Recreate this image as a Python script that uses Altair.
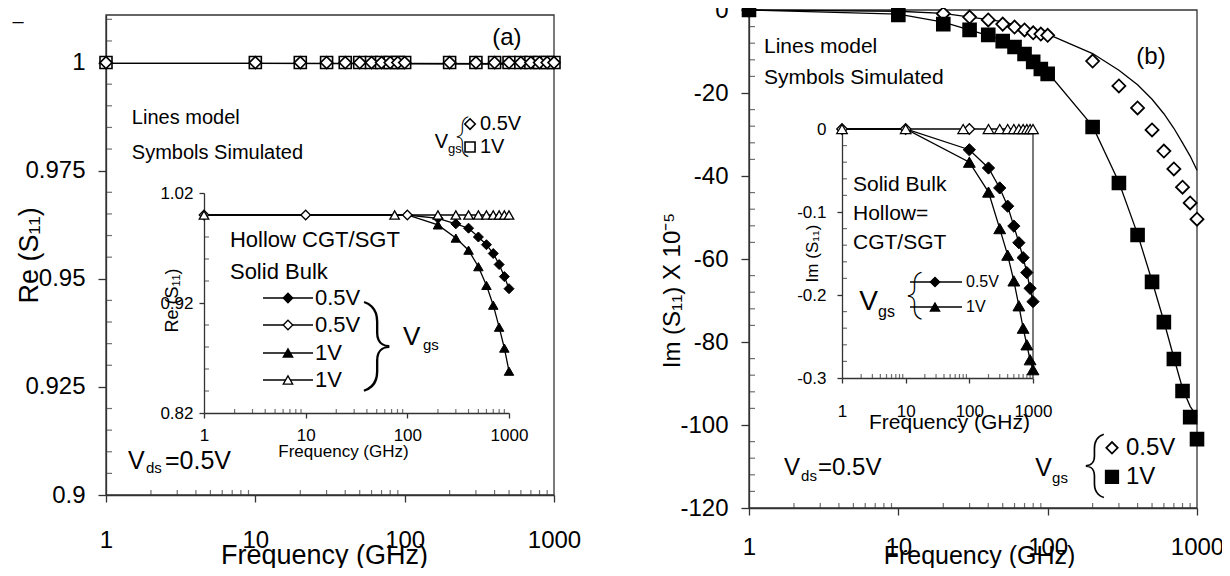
import altair as alt
import pandas as pd

FONT = "Liberation Sans"
BRACE_FONT = "Roboto"
AX = "#333333"

# ---------------- data ----------------
freq_a = [1, 10, 20, 30, 40, 50, 60, 70, 80, 90, 100, 200, 300, 400, 500, 600, 700, 800, 900, 1000]
re_sim_05 = [1.0, 1.0, 1.0, 1.0, 1.0, 1.0, 1.0, 1.0, 1.0, 1.0, 1.0, 1.0, 1.0, 1.0, 1.0, 1.0, 1.0, 1.0, 1.0, 1.0]
re_sim_1 = [1.0, 1.0, 1.0, 1.0, 1.0, 1.0, 1.0, 1.0, 1.0, 1.0, 1.0, 1.0, 1.0, 1.0, 1.0, 1.0, 1.0, 1.0, 1.0, 1.0]
model_f_a = [1, 10, 100, 1000]
re_model_05 = [0.9998, 0.9998, 0.9998, 0.9997]
re_model_1 = [0.9998, 0.9998, 0.9997, 0.9996]

ins_a_f = [1, 10, 100, 200, 300, 400, 500, 600, 700, 800, 900, 1000]
ins_a_bulk_05 = [1.0, 1.0, 1.0, 0.997, 0.992, 0.988, 0.980, 0.973, 0.965, 0.955, 0.944, 0.933]
ins_a_bulk_1 = [1.0, 1.0, 1.0, 0.991, 0.979, 0.968, 0.953, 0.936, 0.918, 0.898, 0.879, 0.858]
ins_a_cgt05_f = [1, 10, 100]
ins_a_cgt05 = [1.0, 1.0, 1.0]
ins_a_cgt1_f = [1, 75, 200, 300, 400, 500, 600, 700, 800, 900, 1000]
ins_a_cgt1 = [1.0, 1.0, 1.0, 1.0, 1.0, 1.0, 1.0, 1.0, 1.0, 1.0, 1.0]

freq_b = [1, 10, 20, 30, 40, 50, 60, 70, 80, 90, 100, 200, 300, 400, 500, 600, 700, 800, 900, 1000]
im_sim_05 = [0.0, -0.2, -0.9, -1.7, -2.4, -3.4, -4.1, -4.8, -5.5, -5.8, -6.1, -12.3, -18.3, -23.6, -28.9, -34.0, -38.3, -42.7, -46.5, -50.4]
im_sim_1 = [0.0, -1.2, -3.4, -4.8, -6.0, -7.5, -8.9, -10.6, -12.5, -14.2, -15.4, -28.2, -41.7, -54.2, -65.5, -75.2, -84.1, -91.8, -98.1, -103.4]
model_f_b = [1, 10, 20, 50, 100, 200, 300, 400, 500, 600, 700, 800, 900, 1000]
im_model_05 = [0.0, -0.3, -0.8, -2.8, -5.8, -10.5, -14.5, -18.0, -21.5, -25.0, -28.5, -32.0, -35.2, -38.6]
im_model_1 = [0.0, -1.0, -2.9, -7.2, -15.0, -28.0, -41.5, -54.0, -65.3, -75.0, -83.8, -91.2, -95.5, -98.0]

ins_b_f = [1, 10, 100, 200, 300, 400, 500, 600, 700, 800, 900, 1000]
ins_b_bulk_05 = [0.0, 0.0, -0.025, -0.047, -0.071, -0.093, -0.117, -0.137, -0.155, -0.173, -0.192, -0.208]
ins_b_bulk_1 = [0.0, 0.0, -0.040, -0.076, -0.120, -0.152, -0.183, -0.213, -0.240, -0.260, -0.278, -0.290]
ins_b_cgt05_f = [1, 10, 100]
ins_b_cgt05 = [0.0, 0.0, 0.0]
ins_b_cgt1_f = [1, 10, 80, 200, 300, 400, 500, 600, 700, 800, 900, 1000]
ins_b_cgt1 = [0.0, 0.0, 0.0, 0.0, 0.0, 0.0, 0.0, 0.0, 0.0, 0.0, 0.0, 0.0]

x_ticks = [1, 10, 100, 1000]
a_yticks = [0.9, 0.925, 0.95, 0.975, 1.0]
ai_yticks = [0.82, 0.92, 1.02]
b_yticks = [-120, -100, -80, -60, -40, -20, 0]
bi_yticks = [-0.3, -0.2, -0.1, 0.0]


def xs(rng):
    return alt.Scale(type="log", domain=[1, 1000], range=rng, nice=False)


def ys(dom, rng):
    return alt.Scale(type="linear", domain=dom, range=rng, nice=False, zero=False)


XA, YA = xs([98, 546]), ys([0.9, 1.011], [487, 7])
XAI, YAI = xs([196, 501]), ys([0.82, 1.02], [405, 185])
XB, YB = xs([741, 1189]), ys([-120, 0], [500, 2])
XBI, YBI = xs([834, 1025]), ys([-0.3, 0], [370, 121])


def axis(**kw):
    base = dict(domainColor=AX, domainWidth=1.3, tickColor=AX, tickWidth=1.3,
                labelColor="black", titleColor="black", labelFont=FONT, titleFont=FONT,
                titleFontWeight="normal", grid=False, labelFlush=False, labelOverlap=False)
    base.update(kw)
    return alt.Axis(**base)


def enc(xsc, ysc):
    return dict(x=alt.X("f:Q", scale=xsc, axis=None), y=alt.Y("v:Q", scale=ysc, axis=None))


def line(f, v, xsc, ysc, sw=1.3):
    return alt.Chart(pd.DataFrame({"f": f, "v": v})).mark_line(color="black", strokeWidth=sw).encode(**enc(xsc, ysc))


def pts(f, v, xsc, ysc, shape, filled, size, sw=1.6, flt=None):
    c = alt.Chart(pd.DataFrame({"f": f, "v": v}))
    if flt:
        c = c.transform_filter(flt)
    return c.mark_point(
        shape=shape, filled=True, fill="black" if filled else "white", stroke="black",
        strokeWidth=sw, size=size, opacity=1).encode(**enc(xsc, ysc))


def texts(rows, xsc, ysc, align="left", font=FONT, weight="normal"):
    df = pd.DataFrame(rows, columns=["f", "v", "text", "fs"])
    return alt.Chart(df).mark_text(align=align, baseline="middle", font=font, fontWeight=weight,
                                   color="black").encode(
        x=alt.X("f:Q", scale=xsc, axis=None), y=alt.Y("v:Q", scale=ysc, axis=None),
        text="text:N", size=alt.Size("fs:Q", scale=None))


def minor_y(vals, xpos, xsc, ysc, size):
    df = pd.DataFrame({"f": [xpos] * len(vals), "v": vals})
    return alt.Chart(df).mark_tick(orient="horizontal", size=size, thickness=1.2, xOffset=size / 2,
                                   color=AX).encode(**enc(xsc, ysc))


def minor_x(ypos, xsc, ysc, size):
    vals = [d * m for d in (1, 10, 100) for m in range(2, 10)]
    df = pd.DataFrame({"f": vals, "v": [ypos] * len(vals)})
    return alt.Chart(df).mark_tick(orient="vertical", size=size, thickness=1.2, yOffset=-size / 2,
                                   color=AX).encode(**enc(xsc, ysc))


def legend_line(f1, f2, v, xsc, ysc):
    df = pd.DataFrame({"f": [f1], "f2": [f2], "v": [v]})
    return alt.Chart(df).mark_rule(color="black", strokeWidth=1.3).encode(
        x=alt.X("f:Q", scale=xsc, axis=None), x2="f2:Q", y=alt.Y("v:Q", scale=ysc, axis=None))


def axes_layer(xsc, ysc, xaxis, yaxis, fmin, vmin):
    df = pd.DataFrame({"f": [fmin], "v": [vmin]})
    return alt.Chart(df).mark_point(opacity=0).encode(
        x=alt.X("f:Q", scale=xsc, axis=xaxis), y=alt.Y("v:Q", scale=ysc, axis=yaxis))


def frame(xsc, ysc, v0, v1):
    df = pd.DataFrame({"f": [1], "f2": [1000], "v": [v0], "v2": [v1]})
    return alt.Chart(df).mark_rect(fillOpacity=0, stroke=AX, strokeWidth=1.3).encode(
        x=alt.X("f:Q", scale=xsc, axis=None), x2="f2:Q",
        y=alt.Y("v:Q", scale=ysc, axis=None), y2="v2:Q")


xlab = "datum.value + ''"

layers = []

# ---------------- panel (a) ----------------
layers.append(axes_layer(
    XA, YA,
    axis(orient="bottom", offset=-73, values=x_ticks, labelExpr=xlab, tickSize=7, labelPadding=26,
         labelFontSize=24, title="Frequency (GHz)", titleFontSize=27, titleX=316, titleY=68,
         titleAlign="center", titleBaseline="alphabetic", titleAnchor="start"),
    axis(orient="left", offset=-98, values=a_yticks, format=".3~f", tickSize=8, labelPadding=13,
         labelFontSize=24, title="Re (S₁₁)", titleFontSize=27, titleAngle=270, titleX=-77,
         titleY=247, titleAlign="center", titleBaseline="middle", titleAnchor="start"),
    1, 0.9))
a_minor_y = [round(0.9 + 0.005 * i, 3) for i in range(23) if i % 5 != 0]
layers += [
    frame(XA, YA, 0.9, 1.011),
    minor_y(a_minor_y, 1, XA, YA, 6),
    minor_x(0.9, XA, YA, 5),
    line(model_f_a, re_model_05, XA, YA),
    line(model_f_a, re_model_1, XA, YA),
    pts(freq_a, re_sim_1, XA, YA, "square", False, 144),
    pts(freq_a, re_sim_05, XA, YA, "diamond", False, 144),
    pts([274], [0.98579], XA, YA, "diamond", False, 110),
    pts([274], [0.98047], XA, YA, "square", False, 100),
    texts([(1.49, 0.98718, "Lines model", 20), (1.49, 0.97909, "Symbols Simulated", 20),
           (319.5, 0.98579, "0.5V", 20), (319.5, 0.98047, "1V", 20), (195, 0.98001, "gs", 13),
           (1.404, 0.90786, "V", 25), (1.853, 0.9062, "ds", 15), (2.483, 0.90786, "=0.5V", 25)],
          XA, YA),
    texts([(195, 0.98163, "V", 20)], XA, YA, align="right"),
    texts([(484, 1.0057, "(a)", 24), (0.2575, 1.0094, "–", 20)], XA, YA, align="center"),
    texts([(242, 0.98302, "{", 40)], XA, YA, align="center", font=BRACE_FONT, weight=100),
]

# ---------------- inset (a) ----------------
layers.append(axes_layer(
    XAI, YAI,
    axis(orient="bottom", offset=-155, values=x_ticks, labelExpr=xlab, tickSize=5, labelPadding=9,
         labelFontSize=17, title="Frequency (GHz)", titleFontSize=17, titleX=335, titleY=30,
         titleAlign="center", titleBaseline="top", titleAnchor="start"),
    axis(orient="left", offset=-196, values=ai_yticks, format=".2f", tickSize=5, labelPadding=6,
         labelFontSize=17, title="Re (S₁₁)", titleFontSize=18, titleAngle=270, titleX=-32,
         titleY=292, titleAlign="center", titleBaseline="middle", titleAnchor="start"),
    1, 0.82))
ai_minor_y = [0.84, 0.86, 0.88, 0.90, 0.94, 0.96, 0.98, 1.0]
layers += [
    minor_y(ai_minor_y, 1, XAI, YAI, 5),
    minor_x(0.82, XAI, YAI, 4),
    line(ins_a_cgt1_f, ins_a_cgt1, XAI, YAI),
    line(ins_a_f, ins_a_bulk_05, XAI, YAI),
    line(ins_a_f, ins_a_bulk_1, XAI, YAI),
    pts(ins_a_f, ins_a_bulk_05, XAI, YAI, "diamond", True, 100, 1.0, "datum.f >= 200"),
    pts(ins_a_f, ins_a_bulk_1, XAI, YAI, "triangle-up", True, 90, 1.0, "datum.f >= 200"),
    pts(ins_a_cgt05_f, ins_a_cgt05, XAI, YAI, "diamond", False, 90, 1.3),
    pts(ins_a_cgt1_f, ins_a_cgt1, XAI, YAI, "triangle-up", False, 90, 1.3),
    legend_line(3.804, 11.81, 0.92455, XAI, YAI),
    legend_line(3.804, 11.81, 0.90, XAI, YAI),
    legend_line(3.804, 11.81, 0.87455, XAI, YAI),
    legend_line(3.804, 11.81, 0.85, XAI, YAI),
    pts([6.70], [0.92455], XAI, YAI, "diamond", True, 90, 1.3),
    pts([6.70], [0.90], XAI, YAI, "diamond", False, 90, 1.3),
    pts([6.70], [0.87455], XAI, YAI, "triangle-up", True, 90, 1.3),
    pts([6.70], [0.85], XAI, YAI, "triangle-up", False, 90, 1.3),
    texts([(1.80, 0.97727, "Hollow  CGT/SGT", 22), (1.80, 0.94818, "Solid  Bulk", 22),
           (12.36, 0.92455, "0.5V", 22), (12.36, 0.90, "0.5V", 22), (12.36, 0.87455, "1V", 22),
           (12.36, 0.85, "1V", 22), (90.6, 0.8891, "V", 26), (142.6, 0.88182, "gs", 15)],
          XAI, YAI),
    texts([(51.4, 0.88182, "}", 90)], XAI, YAI, align="center", font=BRACE_FONT, weight=100),
]

# ---------------- panel (b) ----------------
layers.append(axes_layer(
    XB, YB,
    axis(orient="bottom", offset=-60, values=x_ticks, labelExpr=xlab, tickSize=7, labelPadding=20,
         labelFontSize=24, title="Frequency (GHz)", titleFontSize=25, titleX=971, titleY=55,
         titleAlign="center", titleBaseline="alphabetic", titleAnchor="start"),
    axis(orient="left", offset=-741, values=b_yticks, labelExpr=xlab, tickSize=8, labelPadding=13,
         labelFontSize=24, title="Im (S₁₁) X 10⁻⁵", titleFontSize=24, titleAngle=270, titleX=-77,
         titleY=282, titleAlign="center", titleBaseline="middle", titleAnchor="start"),
    1, -120))
b_minor_y = [v for v in range(-116, 0, 4) if v % 20 != 0]
layers += [
    frame(XB, YB, -120, 0),
    minor_y(b_minor_y, 1, XB, YB, 6),
    minor_x(-120, XB, YB, 5),
    line(model_f_b, im_model_05, XB, YB),
    line(model_f_b, im_model_1, XB, YB),
    pts(freq_b, im_sim_05, XB, YB, "diamond", False, 169, 1.8),
    pts(freq_b, im_sim_1, XB, YB, "square", True, 169),
    pts([269.6], [-105.5], XB, YB, "diamond", False, 130, 1.8),
    pts([269.6], [-112.5], XB, YB, "square", True, 160),
    texts([(1.26, -8.92, "Lines model", 21), (1.26, -16.39, "Symbols Simulated", 21),
           (1.715, -110.4, "V", 24), (2.231, -112.3, "ds", 15), (2.899, -110.4, "=0.5V", 24),
           (334.6, -105.5, "0.5V", 24), (334.6, -112.5, "1V", 24), (107, -112.8, "gs", 15)],
          XB, YB),
    texts([(107, -110.4, "V", 25)], XB, YB, align="right"),
    texts([(492, -11.33, "(b)", 24)], XB, YB, align="center"),
    texts([(204, -109.6, "{", 64)], XB, YB, align="center", font=BRACE_FONT, weight=100),
]

# ---------------- inset (b) ----------------
layers.append(axes_layer(
    XBI, YBI,
    axis(orient="bottom", offset=-190, values=x_ticks, labelExpr=xlab, tickSize=5, labelPadding=20,
         labelFontSize=17, title="Frequency (GHz)", titleFontSize=21, titleX=941, titleY=33,
         titleAlign="center", titleBaseline="top", titleAnchor="start"),
    axis(orient="left", offset=-834, values=bi_yticks, labelExpr=xlab, tickSize=5, labelPadding=11,
         labelFontSize=17, title="Im (S₁₁)", titleFontSize=17, titleAngle=270, titleX=-30,
         titleY=245, titleAlign="center", titleBaseline="middle", titleAnchor="start"),
    1, -0.3))
bi_minor_y = [-0.28, -0.26, -0.24, -0.22, -0.18, -0.16, -0.14, -0.12, -0.08, -0.06, -0.04, -0.02]
border_bi = alt.Chart(pd.DataFrame({"f": [1000], "v": [-0.3], "v2": [0.0]})).mark_rule(
    color=AX, strokeWidth=1.3).encode(
    x=alt.X("f:Q", scale=XBI, axis=None), y=alt.Y("v:Q", scale=YBI, axis=None), y2="v2:Q")
layers += [
    border_bi,
    minor_y(bi_minor_y, 1, XBI, YBI, 5),
    minor_x(-0.3, XBI, YBI, 4),
    line(ins_b_cgt1_f, ins_b_cgt1, XBI, YBI),
    line(ins_b_f, ins_b_bulk_05, XBI, YBI),
    line(ins_b_f, ins_b_bulk_1, XBI, YBI),
    pts(ins_b_cgt05_f, ins_b_cgt05, XBI, YBI, "diamond", False, 110, 1.3),
    pts(ins_b_cgt1_f, ins_b_cgt1, XBI, YBI, "triangle-up", False, 110, 1.3),
    pts(ins_b_f, ins_b_bulk_05, XBI, YBI, "diamond", True, 150, 1.0, "datum.f >= 100"),
    pts(ins_b_f, ins_b_bulk_1, XBI, YBI, "triangle-up", True, 140, 1.0, "datum.f >= 100"),
    legend_line(11.70, 76.8, -0.18434, XBI, YBI),
    legend_line(11.70, 76.8, -0.21446, XBI, YBI),
    pts([28.9], [-0.18434], XBI, YBI, "diamond", True, 90, 1.2),
    pts([28.9], [-0.21446], XBI, YBI, "triangle-up", True, 90, 1.2),
    texts([(1.489, -0.06747, "Solid Bulk", 21), (1.489, -0.1024, "Hollow=", 21),
           (1.489, -0.1373, "CGT/SGT", 21), (88.7, -0.18434, "0.5V", 16),
           (88.7, -0.21446, "1V", 16), (3.677, -0.2205, "gs", 16)], XBI, YBI),
    texts([(3.677, -0.2084, "V", 28)], XBI, YBI, align="right"),
    texts([(13.52, -0.2, "{", 48)], XBI, YBI, align="center", font=BRACE_FONT, weight=100),
]

chart = alt.layer(*layers).resolve_scale(
    x="independent", y="independent"
).resolve_axis(
    x="independent", y="independent"
).properties(
    width=1214, height=560, padding=0, autosize=alt.AutoSizeParams(type="none"),
    background="white"
).configure_view(stroke=None)

chart.save("out.html", embed_options={"renderer": "svg", "actions": False})
